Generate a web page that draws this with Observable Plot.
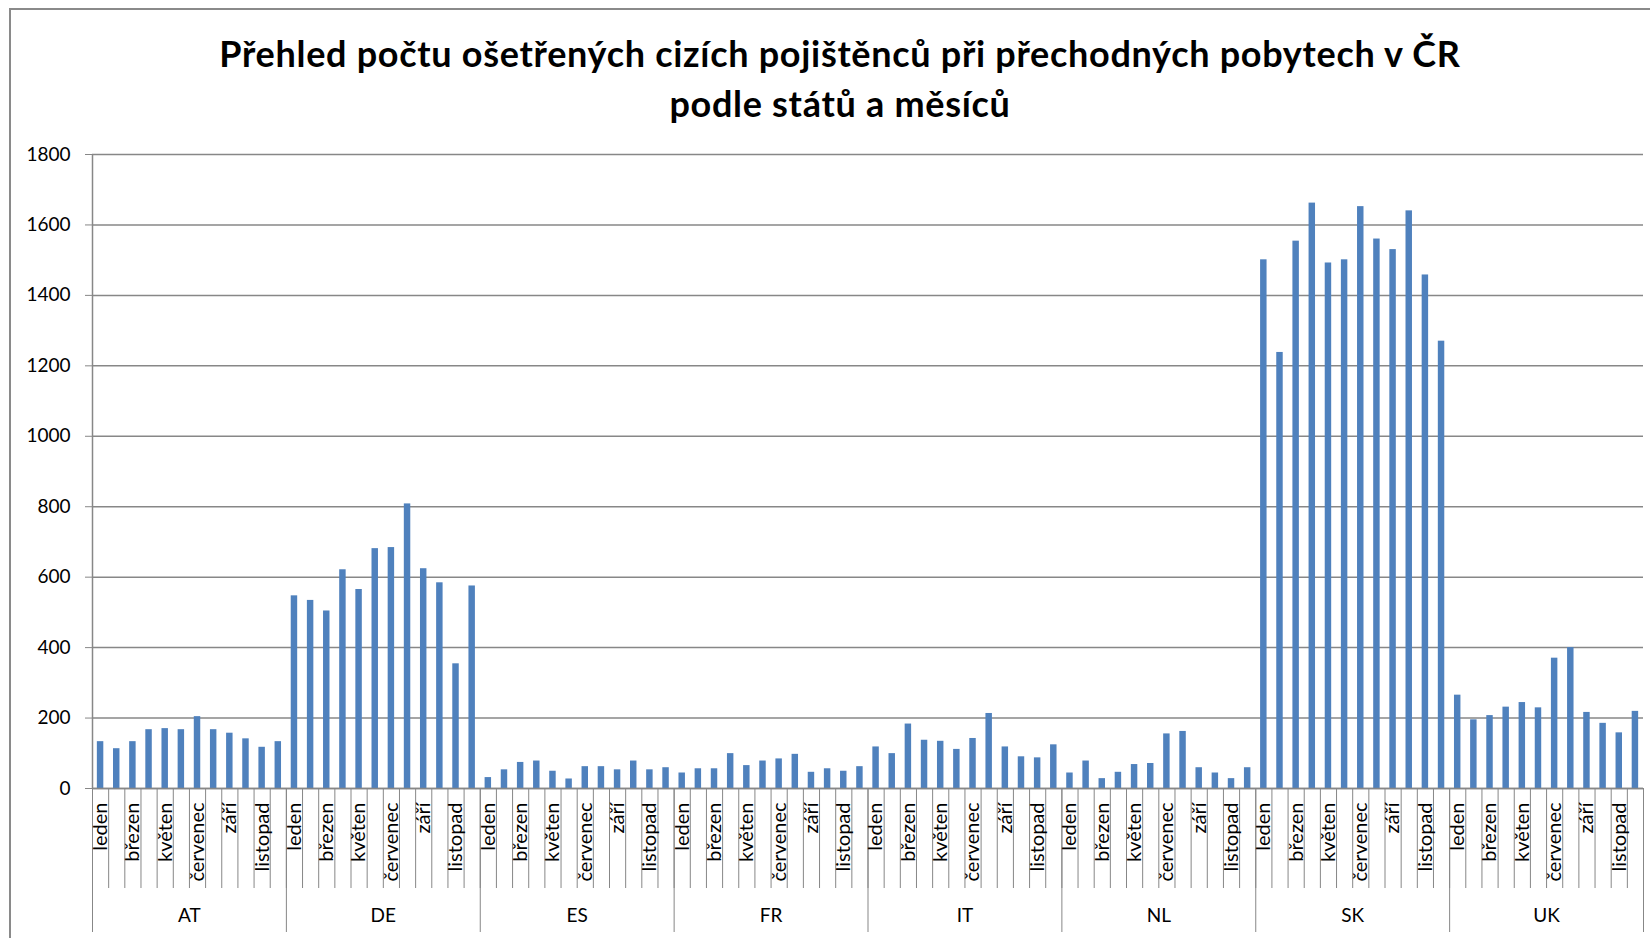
<!DOCTYPE html>
<html><head><meta charset="utf-8">
<script src="https://cdn.jsdelivr.net/npm/d3@7"></script>
<script src="https://cdn.jsdelivr.net/npm/@observablehq/plot@0.6"></script>
<style>
html,body{margin:0;padding:0;background:#fff;overflow:hidden;}
#wrap{position:relative;width:1650px;height:938px;overflow:hidden;font-family:Lato,"Open Sans",sans-serif;}
#frame{position:absolute;left:9px;top:8px;width:1700px;height:1000px;border:2px solid #8a8a8a;box-sizing:border-box;}
#title{position:relative;height:130px;box-sizing:border-box;padding-top:28px;width:1680px;text-align:center;font-weight:bold;font-size:36px;letter-spacing:0.7px;line-height:50px;color:#000;}
#chart{position:relative;}
</style></head>
<body><div id="wrap"><div id="frame"></div>
<div id="title">Přehled počtu ošetřených cizích pojištěnců při přechodných pobytech v ČR<br>podle států a měsíců</div>
<div id="chart"></div></div>
<script>
const countries = ["AT", "DE", "ES", "FR", "IT", "NL", "SK", "UK"];
const months = ["leden", "únor", "březen", "duben", "květen", "červen", "červenec", "srpen", "září", "říjen", "listopad", "prosinec"];
const yTicks = [0, 200, 400, 600, 800, 1000, 1200, 1400, 1600, 1800];

const AT = [133, 113, 133, 167, 170, 167, 204, 167, 157, 141, 117, 133];
const DE = [547, 534, 504, 621, 565, 681, 684, 808, 624, 584, 354, 575];
const ES = [31, 53, 74, 78, 49, 27, 62, 62, 53, 78, 53, 59];
const FR = [44, 56, 56, 99, 65, 78, 84, 97, 46, 56, 49, 62];
const IT = [118, 99, 183, 137, 134, 111, 142, 213, 118, 90, 87, 124];
const NL = [44, 78, 28, 46, 68, 71, 155, 162, 59, 44, 28, 59];
const SK = [1501, 1238, 1554, 1662, 1492, 1501, 1652, 1560, 1530, 1640, 1458, 1270];
const UK = [265, 195, 207, 231, 244, 229, 370, 400, 216, 185, 158, 219];

const seriesList = [AT, DE, ES, FR, IT, NL, SK, UK];
const rows = countries.flatMap((c, g) => seriesList[g].map((v, m) => ({country: c, month: months[m], i: g * 12 + m, value: v})));
const n = rows.length;
const perGroup = months.length;
const labelTicks = rows.filter((d, k) => (k % perGroup) % 2 === 0).map(d => d.i + 0.5);
const groupCenters = countries.map((c, g) => g * perGroup + perGroup / 2);
const gray = "#878787";

const chart = Plot.plot({
  width: 1650, height: 808,
  marginLeft: 92, marginRight: 7, marginTop: 24, marginBottom: 150,
  style: {fontFamily: "Lato, 'Open Sans', sans-serif", fontSize: "19px", color: "#000", background: "transparent", overflow: "visible"},
  x: {type: "linear", domain: [0, n], axis: null},
  y: {domain: [0, 1800], axis: null},
  marks: [
    Plot.gridY(yTicks, {stroke: gray, strokeOpacity: 1, strokeWidth: 1.5}),
    Plot.axisY(yTicks, {tickSize: 7, tickPadding: 15, tickFormat: d => String(d), stroke: gray, fill: "#000", label: null}),
    Plot.ruleX([0], {y1: 0, y2: 1800, stroke: gray, strokeWidth: 1.5}),
    Plot.rect(rows, {x1: d => d.i + 0.3, x2: d => d.i + 0.7, y1: 0, y2: "value", fill: "#4F81BD"}),
    Plot.ruleY([0], {stroke: gray, strokeWidth: 1.5}),
    Plot.axisX(d3.range(0, n + 1), {tickSize: 100, stroke: gray, fill: "none", label: null}),
    Plot.axisX(d3.range(0, n + 1, perGroup), {tickSize: 144, stroke: gray, fill: "none", label: null}),
    Plot.axisX(labelTicks, {tickSize: 0, tickPadding: 14, tickRotate: -90, textAnchor: "end", fontSize: 20, tickFormat: v => months[Math.floor(v) % perGroup], fill: "#000", label: null}),
    Plot.axisX(groupCenters, {tickSize: 0, tickPadding: 120, tickFormat: v => countries[Math.floor(v / perGroup)], fill: "#000", label: null})
  ]
});
document.getElementById("chart").appendChild(chart);
</script>
</body></html>
